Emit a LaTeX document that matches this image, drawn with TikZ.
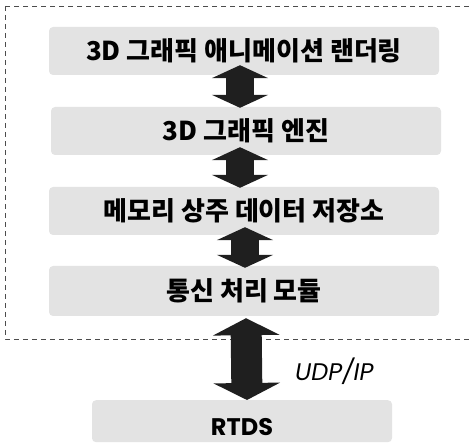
\documentclass[tikz,border=0pt]{standalone}
\usepackage{fontspec}
\newfontfamily\kr{Noto Sans CJK KR}
\newfontfamily\geo{Poppins}
\usetikzlibrary{arrows.meta}
\tikzset{
  layer/.style={fill=black!11, rounded corners=4pt, minimum width=390pt, inner sep=0pt, font=\kr\bfseries\fontsize{26}{29}\selectfont},
  biarrow/.style={draw=black!88, line width=28pt,
    {Triangle[width=56pt,length=13pt,fill=black!88]}-{Triangle[width=56pt,length=13pt,fill=black!88]}},
  bigbiarrow/.style={draw=black!88, line width=31pt,
    {Triangle[width=66pt,length=17pt,fill=black!88]}-{Triangle[width=66pt,length=17pt,fill=black!88]}},
  frame/.style={draw=black!70, line width=0.6pt, dash pattern=on 5pt off 4pt}
}
\begin{document}
\begin{tikzpicture}[x=1pt,y=-1pt]
\useasboundingbox (0,0) rectangle (469,443);
\clip (0,0) rectangle (469,443);
\draw[frame] (5,6) rectangle (480,339);
\node[layer, minimum height=48pt] (b1) at (244,51) {3D 그래픽 애니메이션 랜더링};
\node[layer, minimum height=48pt] (b2) at (246,131) {3D 그래픽 엔진};
\node[layer, minimum height=48pt] (b3) at (244,211) {메모리 상주 데이터 저장소};
\node[layer, minimum height=50pt] (b4) at (244,291) {통신 처리 모듈};
\node[layer, minimum width=300pt, minimum height=42pt, anchor=north, text height=30pt, text depth=1pt, font=\geo\bfseries\fontsize{24}{28}\selectfont] (b5) at (242,400) {RTDS};
\draw[biarrow, shorten <=-10pt, shorten >=-1pt] ([xshift=-4pt]b1.south) -- ([xshift=-6pt]b2.north);
\draw[biarrow, shorten <=-8pt, shorten >=-1pt] ([xshift=-6pt]b2.south) -- ([xshift=-4pt]b3.north);
\draw[biarrow, shorten <=-8pt, shorten >=-2pt] ([xshift=1pt]b3.south) -- ([xshift=1pt]b4.north);
\draw[bigbiarrow, shorten <=2pt, shorten >=0pt] ([xshift=2pt]b4.south) -- ([xshift=5pt]b5.north);
\node[font=\geo\itshape\fontsize{24}{28}\selectfont, anchor=west, inner sep=0pt] (udp) at (295,371) {UDP/IP};
\end{tikzpicture}
\end{document}
